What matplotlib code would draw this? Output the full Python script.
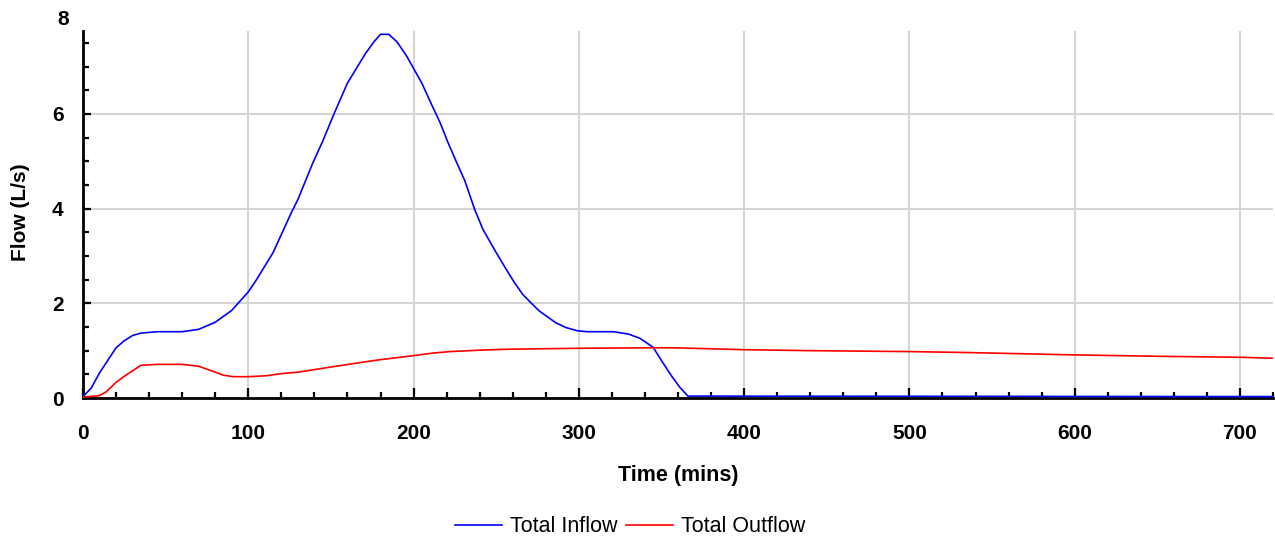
import matplotlib
matplotlib.use("Agg")
import matplotlib.pyplot as plt
from matplotlib.ticker import MultipleLocator
import matplotlib.transforms as mtransforms

# Hydrograph: total inflow and total outflow over the storm duration
inflow_time = [0, 5, 10, 20, 25, 30, 35, 45, 60, 70, 80, 90, 100, 105, 115,
               126, 130, 139, 145, 152, 160, 171, 176, 180, 185, 190, 196,
               200, 205, 211, 216, 221, 226, 231, 237, 242, 250, 256, 261,
               266, 271, 276, 286, 292, 299, 305, 321, 330, 337, 345, 350,
               356, 361, 366, 720]
inflow_flow = [0.03, 0.21, 0.53, 1.06, 1.21, 1.32, 1.37, 1.40, 1.40, 1.45,
               1.60, 1.85, 2.24, 2.50, 3.07, 3.91, 4.19, 4.96, 5.42, 6.01,
               6.65, 7.28, 7.52, 7.68, 7.68, 7.52, 7.21, 6.96, 6.65, 6.19,
               5.82, 5.38, 4.98, 4.59, 3.98, 3.56, 3.07, 2.72, 2.44, 2.19,
               2.01, 1.84, 1.59, 1.49, 1.42, 1.40, 1.40, 1.35, 1.26, 1.07,
               0.79, 0.47, 0.23, 0.04, 0.03]

outflow_time = [0, 10, 14, 20, 25, 35, 45, 60, 70, 79, 85, 91, 100, 111,
                119, 131, 151, 172, 180, 192, 200, 212, 222, 240, 257, 300,
                344, 358, 400, 440, 500, 535, 600, 652, 700, 720]
outflow_flow = [0.02, 0.05, 0.13, 0.33, 0.46, 0.69, 0.71, 0.71, 0.67, 0.56,
                0.48, 0.45, 0.45, 0.47, 0.51, 0.55, 0.66, 0.77, 0.81, 0.86,
                0.895, 0.95, 0.98, 1.01, 1.03, 1.05, 1.06, 1.06, 1.02, 1.00,
                0.98, 0.96, 0.91, 0.88, 0.86, 0.84]

x_major = [0, 100, 200, 300, 400, 500, 600, 700]
y_major = [0, 2, 4, 6, 8]

plt.rcParams['font.family'] = ['Liberation Sans', 'DejaVu Sans']

W, H = 1275, 541
fig = plt.figure(figsize=(W / 100, H / 100), dpi=100)
ax = fig.add_axes([83 / W, 1 - 398 / H, (1273 - 83) / W, (398 - 31) / H])

ax.plot(inflow_time, inflow_flow, color='#0000ff', lw=1.2, label='Total Inflow',
        zorder=3)
ax.plot(outflow_time, outflow_flow, color='#ff0000', lw=1.2, label='Total Outflow',
        zorder=3)

ax.set_xlim(0, 720)
ax.set_ylim(0, 7.75)

ax.set_xticks(x_major)
ax.set_yticks(y_major[:-1])
ax.xaxis.set_minor_locator(MultipleLocator(20))
ax.yaxis.set_minor_locator(MultipleLocator(0.5))

ax.grid(True, which='major', color='#d4d4d4', lw=1.5, zorder=0)
ax.set_axisbelow(True)

for side in ('top', 'right'):
    ax.spines[side].set_visible(False)
for side in ('left', 'bottom'):
    ax.spines[side].set_linewidth(2.0)
    ax.spines[side].set_color('black')

ax.tick_params(axis='both', which='both', direction='in', color='black',
               width=1.6)
ax.tick_params(axis='x', which='major', length=7.5, pad=19, labelsize=15)
ax.tick_params(axis='x', which='minor', length=4.5)
ax.tick_params(axis='y', which='major', length=5.5, pad=14, labelsize=15)
ax.tick_params(axis='y', which='minor', length=4.5)
for lbl in ax.get_xticklabels() + ax.get_yticklabels():
    lbl.set_fontweight('bold')

# the top label sits above the axis end
trans = mtransforms.blended_transform_factory(ax.transAxes, ax.transData)
ax.text(-14 / (1273 - 83), y_major[-1], str(y_major[-1]), transform=trans,
        ha='right', va='center', fontsize=15, fontweight='bold', clip_on=False)

ax.set_xlabel('Time (mins)', fontsize=15.5, fontweight='bold')
ax.xaxis.label.set_va('center')
ax.xaxis.set_label_coords(678 / W, 1 - 476 / H, transform=fig.transFigure)

ax.set_ylabel('Flow (L/s)', fontsize=15, fontweight='bold')
ax.yaxis.label.set_va('center')
ax.yaxis.set_label_coords(21 / W, 1 - 212 / H, transform=fig.transFigure)

ax.legend(loc='center', bbox_to_anchor=(630 / W, 1 - 527 / H),
          bbox_transform=fig.transFigure, ncol=2, frameon=False, fontsize=15.5,
          handlelength=2.2, handletextpad=0.37, columnspacing=0.37,
          borderpad=0, borderaxespad=0)

fig.savefig('out.png', dpi=100)
